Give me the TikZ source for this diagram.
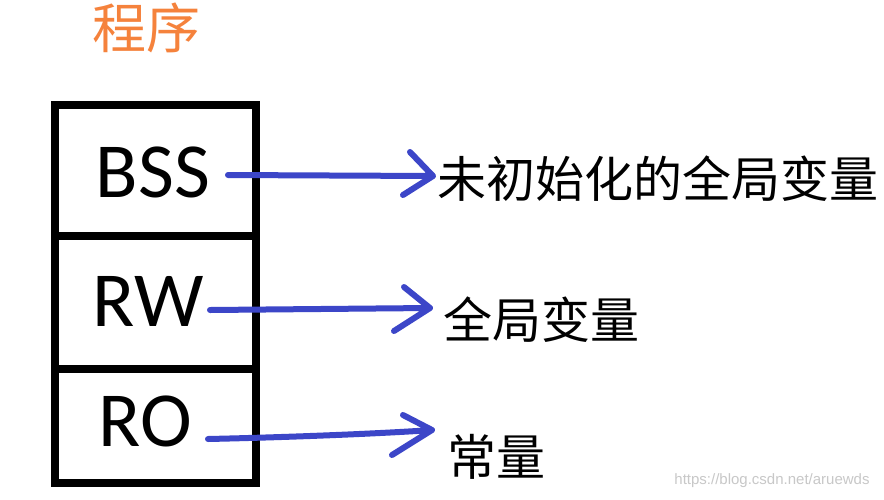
\documentclass[tikz,border=0pt]{standalone}
\usepackage{fontspec}
\setmainfont{Carlito}
\newfontfamily\cjk{Noto Sans CJK SC}
\newfontfamily\wmfont{Liberation Sans}
\definecolor{arrowblue}{HTML}{3C46C8}
\definecolor{titleorange}{HTML}{F5823C}
\definecolor{wmgray}{HTML}{C8C8C8}
\begin{document}
\begin{tikzpicture}[x=1pt,y=-1pt,
  sec/.style={draw=black,line width=8.5pt,minimum width=201pt,inner sep=0pt},
  seglabel/.style={inner sep=0pt,font=\fontsize{78}{80}\selectfont},
  cjklabel/.style={inner sep=0pt,anchor=west,font=\cjk\fontsize{49}{52}\selectfont},
  penline/.style={draw=arrowblue,line width=6pt,line cap=round,line join=round}]
\useasboundingbox (0,0) rectangle (884,499);
\fill[white] (0,0) rectangle (884,499);
% title
\node[inner sep=0pt,text=titleorange,font=\cjk\fontsize{54}{56}\selectfont] (title) at (146,28) {程序};
% memory sections
\node[sec,minimum height=131pt] (bss) at (155.5,170.5) {};
\node[sec,minimum height=133pt] (rw) at (155.5,302.5) {};
\node[sec,minimum height=114pt] (ro) at (155.5,426) {};
\node[seglabel] (bsst) at (153,172) {BSS};
\node[seglabel] (rwt) at (148,301) {RW};
\node[seglabel] (rot) at (145,421) {RO};
% labels
\node[cjklabel] (l1) at (437,179) {未初始化的全局变量};
\node[cjklabel] (l2) at (443,320) {全局变量};
\node[cjklabel] (l3) at (447,457) {常量};
% arrows
\coordinate (a1s) at (228,175);
\coordinate (a1t) at (433,176);
\coordinate (a2s) at (210,310);
\coordinate (a2t) at (430,308);
\coordinate (a3s) at (208,439);
\coordinate (a3t) at (432,430);
\draw[penline] (a1s) -- (a1t) -- ++(-23,-24) (a1t) -- ++(-30,19);
\draw[penline] (a2s) -- (a2t) -- ++(-26,-21) (a2t) -- ++(-36,23);
\draw[penline] (a3s) .. controls (300,437) and (390,433) .. (a3t) -- ++(-29,-15) (a3t) -- ++(-40,25);
% watermark
\node[inner sep=0pt,text=wmgray,font=\wmfont\fontsize{15}{17}\selectfont] (wm) at (772,481) {https://blog.csdn.net/aruewds};
\end{tikzpicture}
\end{document}
